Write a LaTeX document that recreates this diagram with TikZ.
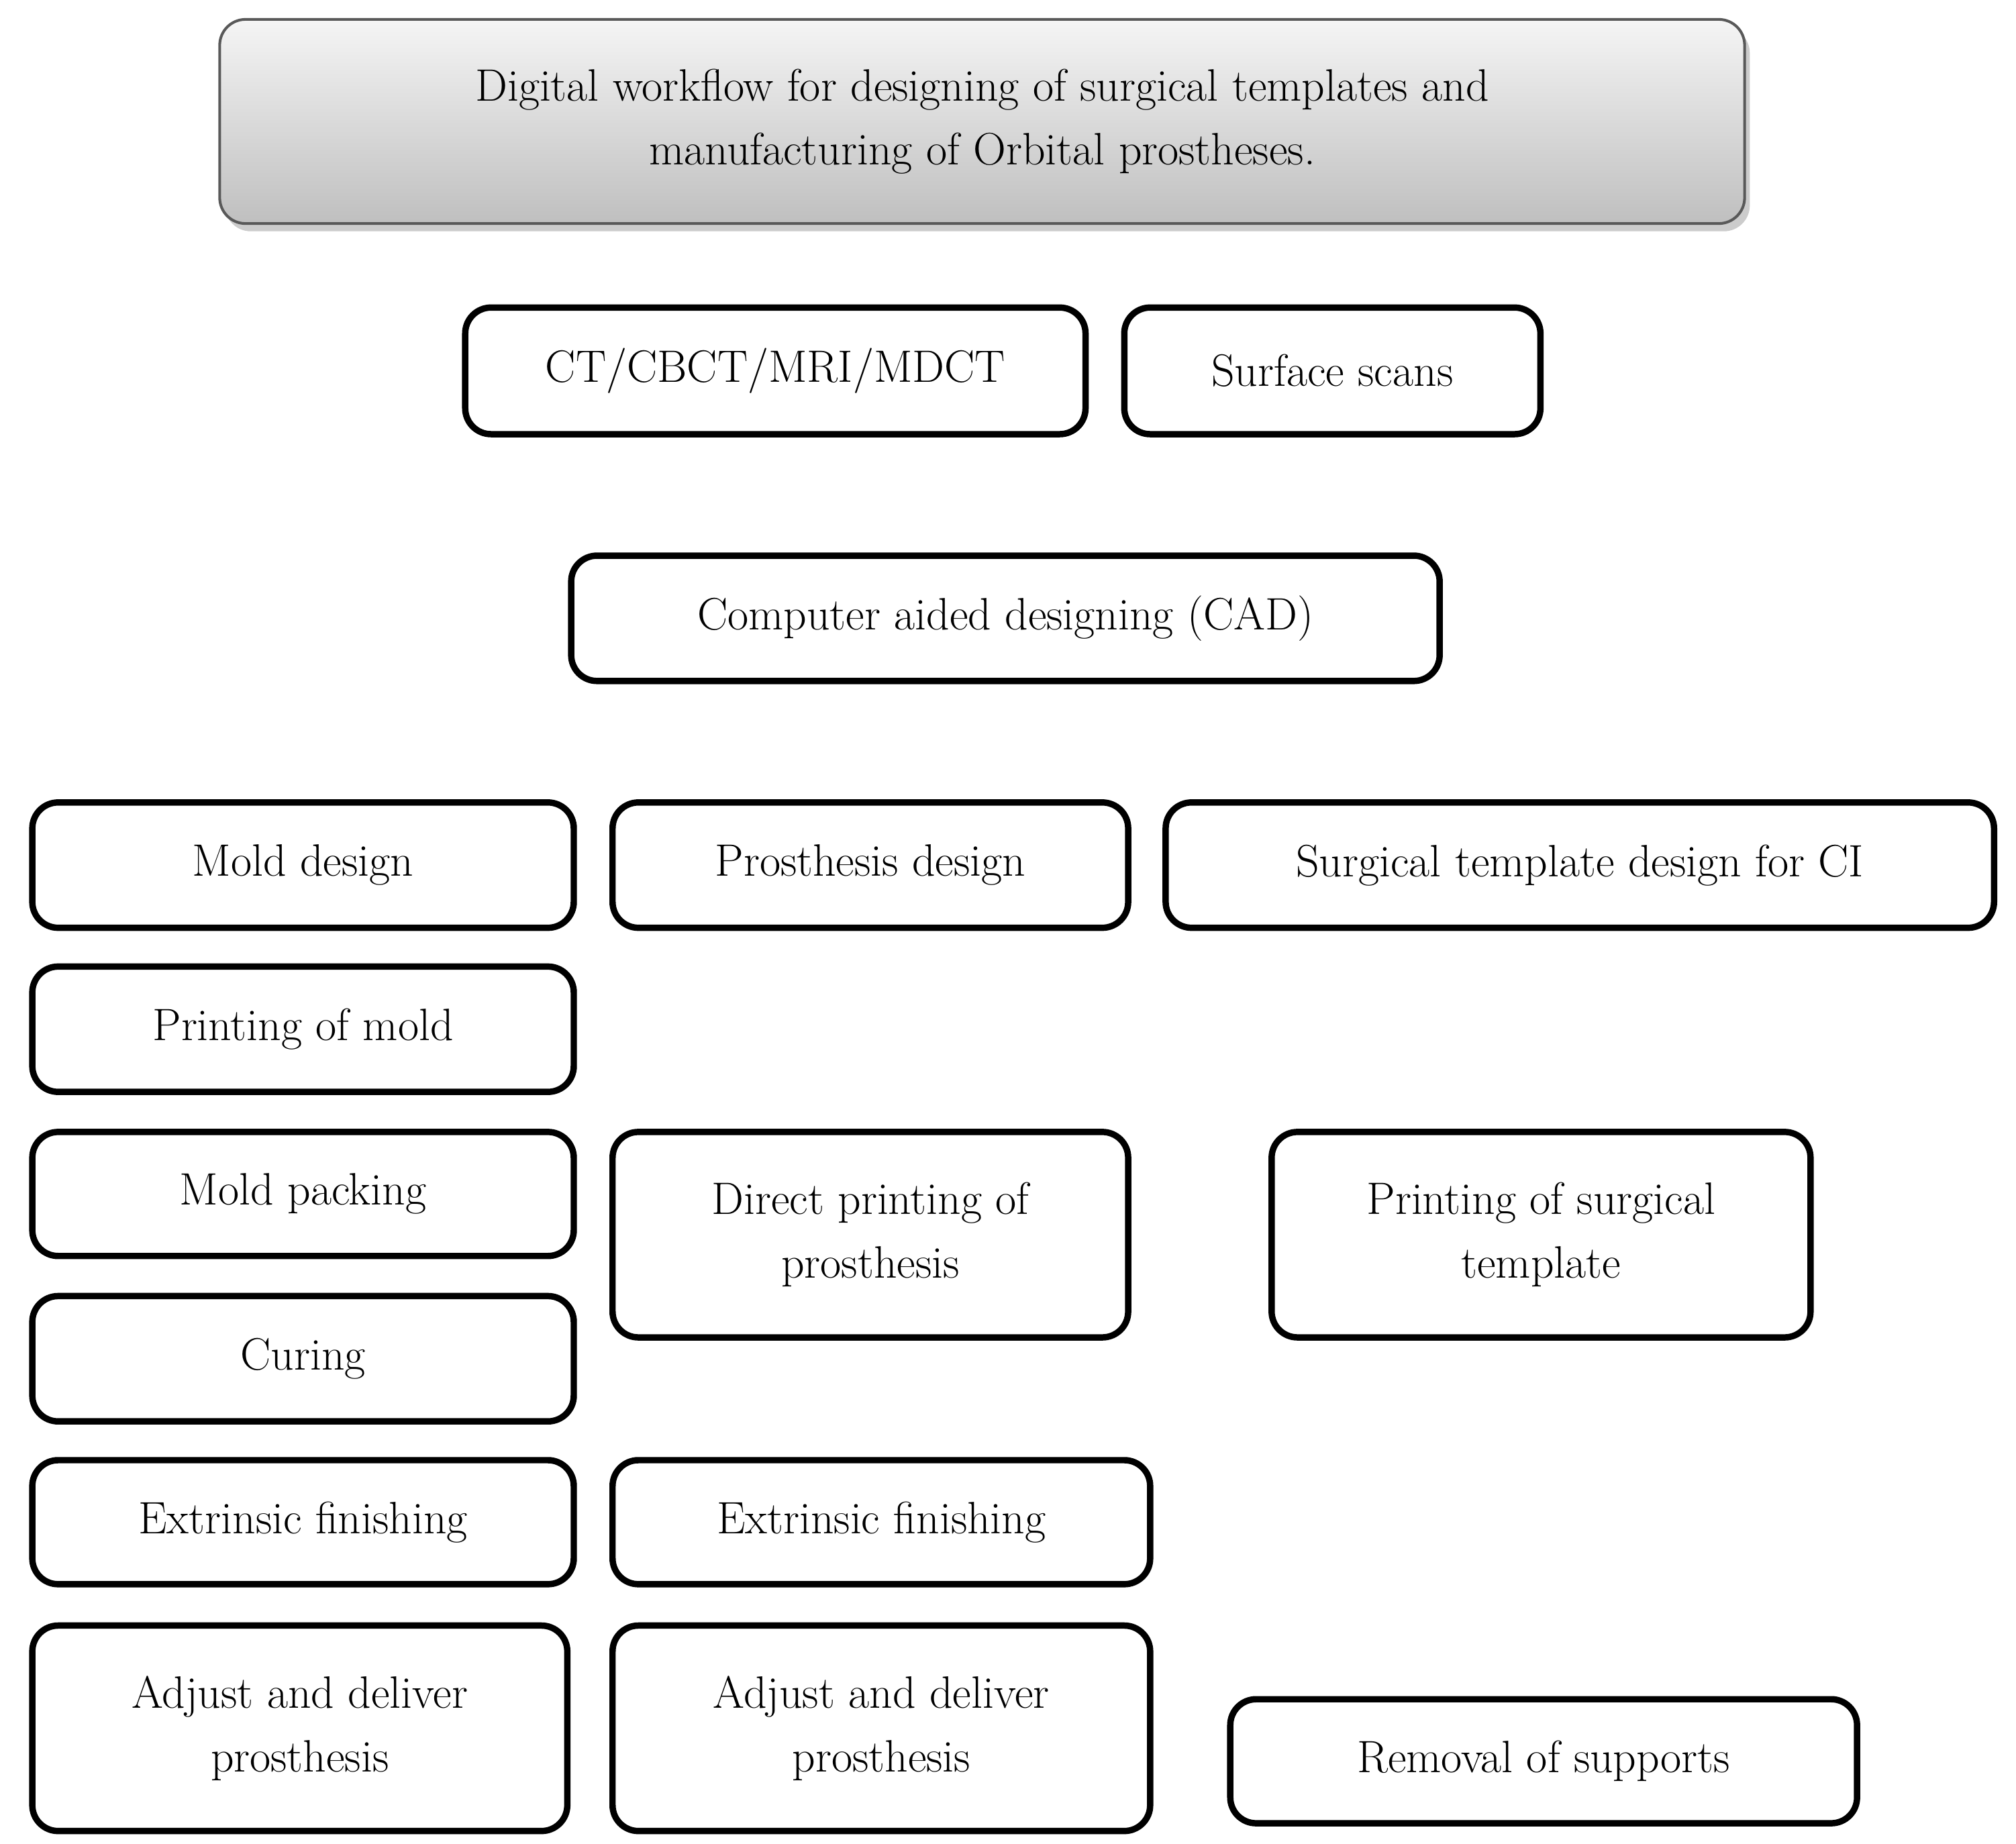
\documentclass[tikz,border=0pt]{standalone}
\usetikzlibrary{shadows}
\begin{document}
\begin{tikzpicture}[x=0.02cm,y=-0.02cm,
  box/.style={draw=black,line width=2.8pt,rounded corners=0.4cm,align=center,
    inner sep=0pt,font=\fontsize{20}{28}\selectfont},
  ttl/.style={box,line width=1.2pt,draw=gray!70!black,top color=gray!8,bottom color=gray!50,
    drop shadow={shadow xshift=0.08cm,shadow yshift=-0.12cm,opacity=0.4}}]
\useasboundingbox (0,0) rectangle (1560,1427);
\newcommand\bx[7][box]{\node[#1,minimum width={(#5-#3)*0.02cm},minimum height={(#6-#4)*0.02cm}] (#2) at ({(#3+#5)/2},{(#4+#6)/2}) {#7};}
\bx[ttl]{title}{170}{15}{1350}{173}{Digital workflow for designing of surgical templates and\\manufacturing of Orbital prostheses.}
\bx{ct}{360}{238}{840}{336}{CT/CBCT/MRI/MDCT}
\bx{surf}{870}{238}{1192}{336}{Surface scans}
\bx{cad}{442}{430}{1114}{527}{Computer aided designing (CAD)}
\bx{mold}{25}{621}{444}{718}{Mold design}
\bx{pdes}{474}{621}{873}{718}{Prosthesis design}
\bx{sdes}{902}{621}{1543}{718}{Surgical template design for CI}
\bx{pmold}{25}{748}{444}{845}{Printing of mold}
\bx{pack}{25}{876}{444}{972}{Mold packing}
\bx{cure}{25}{1003}{444}{1100}{Curing}
\bx{direct}{474}{876}{873}{1035}{Direct printing of\\prosthesis}
\bx{psurg}{984}{876}{1401}{1035}{Printing of surgical\\template}
\bx{ext1}{25}{1130}{444}{1226}{Extrinsic finishing}
\bx{ext2}{474}{1130}{890}{1226}{Extrinsic finishing}
\bx{adj1}{25}{1258}{439}{1417}{Adjust and deliver\\prosthesis}
\bx{adj2}{474}{1258}{890}{1417}{Adjust and deliver\\prosthesis}
\bx{rem}{952}{1315}{1437}{1411}{Removal of supports}
\end{tikzpicture}
\end{document}
